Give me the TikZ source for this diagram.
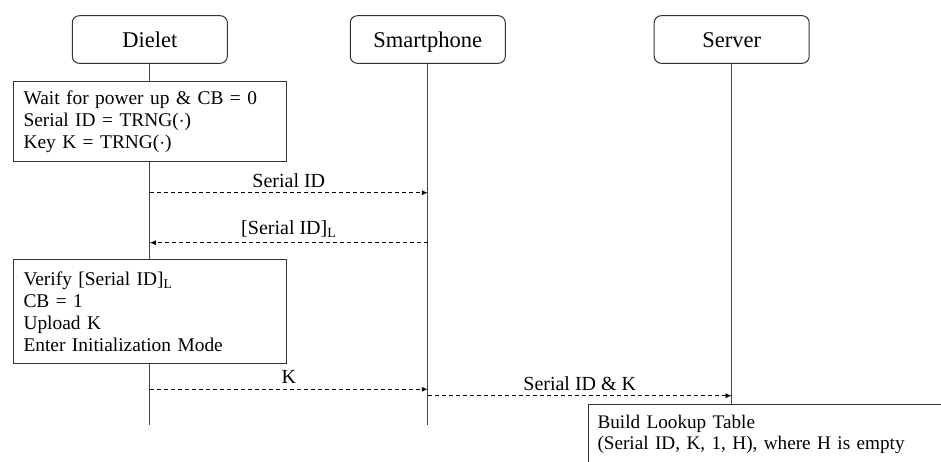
\documentclass[tikz,border=0pt]{standalone}
\usepackage{fontspec}
\setmainfont{Liberation Serif}
\usetikzlibrary{arrows.meta}

\definecolor{lineink}{rgb}{0.27,0.27,0.27}
\definecolor{boxink}{rgb}{0.2,0.2,0.2}

\tikzset{
  actor/.style={draw=boxink, line width=1pt, rounded corners=7pt, fill=white,
    minimum width=155pt, minimum height=47.6pt, inner sep=0pt,
    text height=15.4pt, text depth=0pt,
    font=\fontsize{22.5}{26}\selectfont},
  lifeline/.style={draw=lineink, line width=1.2pt},
  notebox/.style={draw=boxink, line width=1pt, fill=white, anchor=north west,
    align=left, inner xsep=9.7pt, inner ysep=0pt, text width=253.3pt,
    font=\fontsize{19.4}{22}\selectfont},
  msg/.style={draw=black, line width=0.9pt, dash pattern=on 4pt off 3pt,
    -{Latex[length=6pt,width=5pt]}},
  msglabel/.style={above=5pt, inner sep=0pt, font=\fontsize{20}{22}\selectfont},
}

\begin{document}
\begin{tikzpicture}[x=1pt, y=-1pt]
  \clip (0,0) rectangle (941,461);
  \fill[white] (0,0) rectangle (941,461);

  % participants
  \node[actor] (dielet) at (149.8,39.5) {Dielet};
  \node[actor] (phone)  at (427.8,39.5) {Smartphone};
  \node[actor] (server) at (731.7,39.5) {Server};

  % lifeline ends and message anchor points
  \coordinate (dEnd) at (dielet.south |- 0,425);
  \coordinate (pEnd) at (phone.south  |- 0,425);
  \coordinate (sEnd) at (server.south |- 0,404);

  \coordinate (d1) at (dielet.south |- 0,192.7);
  \coordinate (p1) at (phone.south  |- 0,192.7);
  \coordinate (d2) at (dielet.south |- 0,242.7);
  \coordinate (p2) at (phone.south  |- 0,242.7);
  \coordinate (d3) at (dielet.south |- 0,389.3);
  \coordinate (p3) at (phone.south  |- 0,389.3);
  \coordinate (p4) at (phone.south  |- 0,395.7);
  \coordinate (s4) at (server.south |- 0,395.7);

  % lifelines
  \draw[lifeline] (dielet.south) -- (dEnd);
  \draw[lifeline] (phone.south)  -- (pEnd);
  \draw[lifeline] (server.south) -- (sEnd);

  % dielet actions
  \node[notebox, minimum height=80.3pt] (init) at (13.3,80.7)
    {Wait for power up \& CB = 0\\
     Serial ID = TRNG($\cdot$)\\
     Key K = TRNG($\cdot$)};

  \node[notebox, minimum height=103.4pt] (verify) at (13.3,259.3)
    {Verify [Serial ID]\textsubscript{L}\\
     CB = 1\\
     Upload K\\
     Enter Initialization Mode};

  % server action
  \node[draw=boxink, line width=1pt, fill=white, anchor=north west,
        align=left, inner xsep=9pt, inner ysep=11pt, text width=400pt,
        font=\fontsize{19.2}{21}\selectfont] (lookup) at (sEnd -| 588,0)
    {Build Lookup Table\\
     (Serial ID, K, 1, H), where H is empty};

  % messages
  \draw[msg] (d1) -- node[msglabel] {Serial ID} (p1);
  \draw[msg] (p2) -- node[msglabel] {[Serial ID]\textsubscript{L}} (d2);
  \draw[msg] (d3) -- node[msglabel] {K} (p3);
  \draw[msg] (p4) -- node[msglabel] {Serial ID \& K} (s4);
\end{tikzpicture}
\end{document}
